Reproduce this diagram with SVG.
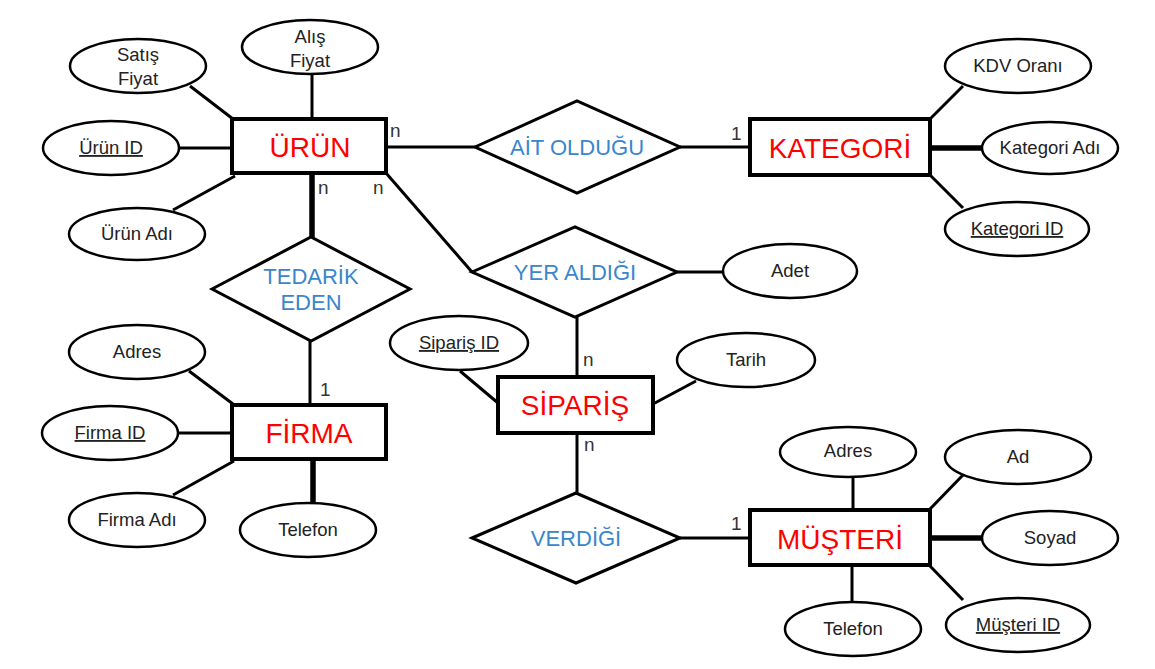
<svg xmlns="http://www.w3.org/2000/svg" width="1155" height="669" viewBox="0 0 1155 669">
<style>
.ent{fill:#fff;stroke:#000;stroke-width:4}
.rel{fill:#fff;stroke:#000;stroke-width:3}
.att{fill:#fff;stroke:#000;stroke-width:2.5}
.ln{stroke:#000;stroke-width:3;fill:none}
.thk{stroke:#000;stroke-width:5.5;fill:none}
.et{font-family:"Liberation Sans",Arial,sans-serif;font-size:28px;fill:#ff0000;text-anchor:middle}
.rt{font-family:"Liberation Sans",Arial,sans-serif;font-size:22px;fill:#3a86cc;text-anchor:middle}
.at{font-family:"Liberation Sans",Arial,sans-serif;font-size:18.5px;fill:#222;text-anchor:middle}
.u{text-decoration:underline}
.ct{font-family:"Liberation Sans",Arial,sans-serif;font-size:19px;fill:#333}
</style>
<rect width="1155" height="669" fill="#fff"/>
<g id="connectors">
<line class="ln" x1="190" y1="86" x2="233" y2="119"/>
<line class="ln" x1="312" y1="75" x2="312" y2="119"/>
<line class="ln" x1="179" y1="148" x2="232" y2="148"/>
<line class="ln" x1="173" y1="210" x2="235" y2="176"/>
<line class="thk" x1="312" y1="173" x2="312" y2="237"/>
<line class="ln" x1="386" y1="147" x2="475" y2="147"/>
<line class="ln" x1="680" y1="147" x2="749" y2="147"/>
<line class="ln" x1="386" y1="173" x2="472" y2="272"/>
<line class="ln" x1="677" y1="272" x2="723" y2="272"/>
<line class="ln" x1="577" y1="317" x2="577" y2="377"/>
<line class="ln" x1="930" y1="119" x2="963" y2="86"/>
<line class="thk" x1="930" y1="148" x2="982" y2="148"/>
<line class="ln" x1="930" y1="175" x2="963" y2="208"/>
<line class="ln" x1="310" y1="341" x2="310" y2="405"/>
<line class="ln" x1="189" y1="371" x2="233" y2="404"/>
<line class="ln" x1="178" y1="433" x2="232" y2="433"/>
<line class="ln" x1="173" y1="495" x2="234" y2="461"/>
<line class="thk" x1="313" y1="459" x2="313" y2="503"/>
<line class="ln" x1="460" y1="371" x2="498" y2="403"/>
<line class="ln" x1="696" y1="381" x2="653" y2="404"/>
<line class="ln" x1="577" y1="433" x2="577" y2="493"/>
<line class="ln" x1="680" y1="538" x2="750" y2="538"/>
<line class="ln" x1="853" y1="477" x2="853" y2="510"/>
<line class="ln" x1="963" y1="475" x2="930" y2="509"/>
<line class="thk" x1="930" y1="538" x2="982" y2="538"/>
<line class="ln" x1="930" y1="566" x2="963" y2="600"/>
<line class="ln" x1="852" y1="565" x2="852" y2="602"/>
</g>
<g id="cardinalities">
<text class="ct" x="390" y="137">n</text>
<text class="ct" x="318" y="194">n</text>
<text class="ct" x="373" y="194">n</text>
<text class="ct" x="731" y="140">1</text>
<text class="ct" x="320" y="396">1</text>
<text class="ct" x="583" y="366">n</text>
<text class="ct" x="584" y="451">n</text>
<text class="ct" x="731" y="530">1</text>
</g>
<g id="urun"><rect class="ent" x="232" y="119" width="154" height="54"/><text class="et" x="310" y="157">ÜRÜN</text></g>
<g id="kategori"><rect class="ent" x="750" y="119" width="180" height="56"/><text class="et" x="840" y="158">KATEGORİ</text></g>
<g id="firma"><rect class="ent" x="232" y="405" width="154" height="54"/><text class="et" x="309" y="443">FİRMA</text></g>
<g id="siparis"><rect class="ent" x="498" y="377" width="155" height="56"/><text class="et" x="575" y="415">SİPARİŞ</text></g>
<g id="musteri"><rect class="ent" x="750" y="510" width="180" height="55"/><text class="et" x="840" y="549">MÜŞTERİ</text></g>
<g id="ait-oldugu"><polygon class="rel" points="475,147 577,101 680,147 577,193"/><text class="rt" x="577" y="155">AİT OLDUĞU</text></g>
<g id="tedarik-eden"><polygon class="rel" points="212,289 311,237 410,289 311,341"/><text class="rt" x="311" y="284">TEDARİK</text><text class="rt" x="311" y="310">EDEN</text></g>
<g id="yer-aldigi"><polygon class="rel" points="472,272 575,227 677,272 575,317"/><text class="rt" x="575" y="280">YER ALDIĞI</text></g>
<g id="verdigi"><polygon class="rel" points="472,538 576,493 680,538 576,583"/><text class="rt" x="576" y="546">VERDİĞİ</text></g>
<g id="satis-fiyat"><ellipse class="att" cx="138" cy="66" rx="68" ry="27"/><text class="at" x="138" y="61">Satış</text><text class="at" x="138" y="85">Fiyat</text></g>
<g id="alis-fiyat"><ellipse class="att" cx="310" cy="47" rx="68" ry="27"/><text class="at" x="310" y="43">Alış</text><text class="at" x="310" y="67">Fiyat</text></g>
<g id="urun-id"><ellipse class="att" cx="111" cy="148" rx="68" ry="27"/><text class="at u" x="111" y="154">Ürün ID</text></g>
<g id="urun-adi"><ellipse class="att" cx="137" cy="234" rx="68" ry="26"/><text class="at" x="137" y="240">Ürün Adı</text></g>
<g id="kdv-orani"><ellipse class="att" cx="1018" cy="66" rx="73" ry="27"/><text class="at" x="1018" y="72">KDV Oranı</text></g>
<g id="kategori-adi"><ellipse class="att" cx="1050" cy="148" rx="68" ry="26"/><text class="at" x="1050" y="154">Kategori Adı</text></g>
<g id="kategori-id"><ellipse class="att" cx="1017" cy="229" rx="72" ry="27"/><text class="at u" x="1017" y="235">Kategori ID</text></g>
<g id="adet"><ellipse class="att" cx="790" cy="271" rx="67" ry="27"/><text class="at" x="790" y="277">Adet</text></g>
<g id="firma-adres"><ellipse class="att" cx="137" cy="352" rx="68" ry="27"/><text class="at" x="137" y="358">Adres</text></g>
<g id="firma-id"><ellipse class="att" cx="110" cy="433" rx="68" ry="27"/><text class="at u" x="110" y="439">Firma ID</text></g>
<g id="firma-adi"><ellipse class="att" cx="137" cy="520" rx="68" ry="27"/><text class="at" x="137" y="526">Firma Adı</text></g>
<g id="firma-telefon"><ellipse class="att" cx="308" cy="530" rx="68" ry="27"/><text class="at" x="308" y="536">Telefon</text></g>
<g id="siparis-id"><ellipse class="att" cx="459" cy="343" rx="69" ry="27"/><text class="at u" x="459" y="349">Sipariş ID</text></g>
<g id="tarih"><ellipse class="att" cx="746" cy="360" rx="69" ry="27"/><text class="at" x="746" y="366">Tarih</text></g>
<g id="musteri-adres"><ellipse class="att" cx="848" cy="452" rx="68" ry="25"/><text class="at" x="848" y="457">Adres</text></g>
<g id="ad"><ellipse class="att" cx="1018" cy="457" rx="73" ry="27"/><text class="at" x="1018" y="463">Ad</text></g>
<g id="soyad"><ellipse class="att" cx="1050" cy="538" rx="68" ry="27"/><text class="at" x="1050" y="544">Soyad</text></g>
<g id="musteri-id"><ellipse class="att" cx="1018" cy="625" rx="72" ry="27"/><text class="at u" x="1018" y="631">Müşteri ID</text></g>
<g id="musteri-telefon"><ellipse class="att" cx="853" cy="629" rx="68" ry="27"/><text class="at" x="853" y="635">Telefon</text></g>
</svg>
